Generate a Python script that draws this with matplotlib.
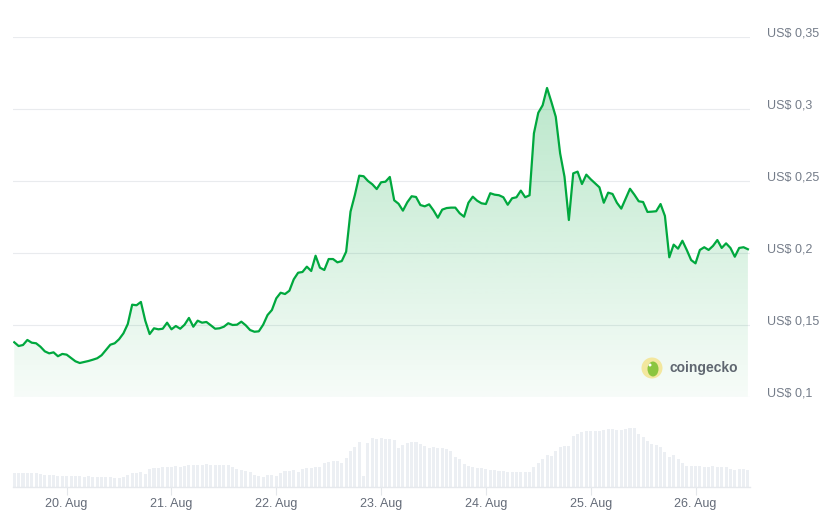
import numpy as np
import pandas as pd
import matplotlib
matplotlib.use("Agg")
import matplotlib.pyplot as plt
import matplotlib.dates as mdates
from matplotlib.colors import to_rgb
from matplotlib.patches import Ellipse

plt.rcParams['font.family'] = ['Liberation Sans', 'DejaVu Sans']

# ======== data (hourly, 19 Aug 12:00 -> 26 Aug 12:00) ========
times = pd.date_range('2024-08-19 12:00', periods=169, freq='h')

price = [
    0.1378, 0.1352, 0.1359, 0.1394, 0.1375, 0.1371, 0.1347, 0.1315, 0.1301, 0.1308,
    0.1281, 0.1297, 0.1292, 0.1269, 0.1246, 0.1234, 0.1241, 0.1248, 0.1257, 0.1267,
    0.1288, 0.1324, 0.1361, 0.1371, 0.1399, 0.1440, 0.1505, 0.1639, 0.1635, 0.1658,
    0.1528, 0.1435, 0.1475, 0.1468,
    0.1472, 0.1514, 0.1468, 0.1491, 0.1472, 0.1500, 0.1547, 0.1486, 0.1528, 0.1514,
    0.1519, 0.1496, 0.1472, 0.1475, 0.1486, 0.1510, 0.1498, 0.1500, 0.1521, 0.1496,
    0.1463, 0.1451, 0.1454, 0.1500, 0.1567, 0.1602, 0.1683, 0.1722, 0.1713, 0.1736,
    0.1815, 0.1861, 0.1866,
    0.1903, 0.1873, 0.1979, 0.1896, 0.1880, 0.1956, 0.1956, 0.1933, 0.1942, 0.2007,
    0.2285, 0.2401, 0.2535, 0.2531, 0.2498, 0.2475, 0.2442, 0.2489, 0.2493, 0.2526,
    0.2364, 0.2340, 0.2292, 0.2350, 0.2392, 0.2387, 0.2331, 0.2322, 0.2336, 0.2294,
    0.2243, 0.2299, 0.2310, 0.2313, 0.2313,
    0.2274, 0.2250, 0.2347, 0.2389, 0.2361, 0.2343, 0.2338, 0.2413, 0.2403, 0.2399,
    0.2385, 0.2333, 0.2378, 0.2385, 0.2431, 0.2385, 0.2399, 0.2829, 0.2972, 0.3024,
    0.3144, 0.3047, 0.2944, 0.2690, 0.2528, 0.2227, 0.2551, 0.2563, 0.2477, 0.2542,
    0.2510, 0.2482, 0.2454, 0.2347,
    0.2417, 0.2408, 0.2347, 0.2306, 0.2375, 0.2444, 0.2403, 0.2357, 0.2352, 0.2283,
    0.2285, 0.2288, 0.2338, 0.2255, 0.1968, 0.2056, 0.2028, 0.2083, 0.2019, 0.1949,
    0.1926, 0.2019, 0.2038, 0.2019, 0.2047, 0.2088, 0.2033, 0.2065, 0.2033, 0.1972,
    0.2033, 0.2038, 0.2024,
]

# volume, relative units (axis is unlabeled)
volume = [
    42, 42, 42, 42, 42, 42, 38, 35, 35, 35,
    32, 32, 32, 32, 32, 32, 30, 32, 30, 30,
    30, 30, 28, 26, 26, 28, 34, 42, 42, 44,
    38, 52, 55, 55, 59, 59, 59, 62, 60, 63,
    66, 66, 66, 66, 68, 66, 66, 66, 66, 66,
    58, 52, 51, 47, 43, 35, 32, 29, 35, 35,
    32, 40, 46, 47, 50, 45, 53, 56, 56, 58,
    59, 70, 74, 76, 77, 72, 85, 106, 118, 133,
    32, 130, 145, 142, 146, 143, 142, 140, 115, 125,
    132, 134, 134, 128, 122, 116, 118, 116, 116, 112,
    106, 88, 82, 68, 62, 58, 56, 56, 52, 50,
    50, 47, 47, 44, 44, 44, 44, 44, 44, 58,
    70, 82, 94, 92, 106, 120, 122, 122, 152, 158,
    164, 166, 166, 166, 168, 170, 172, 172, 170, 170,
    172, 176, 176, 158, 150, 138, 128, 126, 118, 104,
    88, 96, 82, 72, 62, 62, 62, 62, 60, 60,
    62, 60, 58, 58, 54, 50, 52, 52, 50,
]

y_ticks = [0.1, 0.15, 0.2, 0.25, 0.3, 0.35]
y_labels = ['US$ 0,1', 'US$ 0,15', 'US$ 0,2', 'US$ 0,25', 'US$ 0,3', 'US$ 0,35']

GREEN = '#00a83e'
W, H = 826, 514

fig = plt.figure(figsize=(W / 100, H / 100), dpi=100)
left, right = 13, 750
ax = fig.add_axes([left / W, 1 - 396.7 / H, (right - left) / W, 360 / H])
axv = fig.add_axes([left / W, 1 - 486.7 / H, (right - left) / W, 66.7 / H])

day0 = mdates.date2num(pd.Timestamp('2024-08-20'))
xlim = (day0 - 0.512, day0 + 6.52)

# ======== price panel ========
t = mdates.date2num(times)
ax.plot(t, price, color=GREEN, lw=1.6, zorder=3, solid_joinstyle='round')
poly = ax.fill_between(t, price, 0.1, color='none', lw=0)

grad = np.zeros((256, 1, 4))
grad[..., :3] = to_rgb(GREEN)
grad[:, 0, 3] = np.linspace(0.31, 0.035, 256)
im = ax.imshow(grad, extent=[xlim[0], xlim[1], 0.1, 0.35], aspect='auto',
               origin='upper', zorder=2)
im.set_clip_path(poly.get_paths()[0], transform=ax.transData)

ax.set_xlim(*xlim)
ax.set_ylim(0.1, 0.35)
ax.set_yticks(y_ticks)
ax.set_yticklabels([])
ax.set_xticks([])
ax.grid(axis='y', color='#e9ebee', lw=0.8)
ax.set_axisbelow(True)
ax.tick_params(length=0)
for s in ax.spines.values():
    s.set_visible(False)
for v, lab in zip(y_ticks, y_labels):
    ax.text(767 / W, v, lab, transform=ax.get_yaxis_transform().__class__(fig.transFigure, ax.transData),
            ha='left', va='baseline', fontsize=9, color='#747c89')

# ======== volume panel ========
axv.bar(t, volume, width=0.029, color='#eceff3', lw=0)
axv.set_xlim(*xlim)
axv.set_ylim(0, 200)
axv.set_yticks([])
for s in ['top', 'left', 'right']:
    axv.spines[s].set_visible(False)
axv.spines['bottom'].set_color('#e6e9ed')
axv.spines['bottom'].set_linewidth(1)
axv.xaxis.set_major_locator(mdates.DayLocator())
axv.xaxis.set_major_formatter(mdates.DateFormatter('%d. %b'))
axv.tick_params(axis='x', length=6, width=0.8, color='#e3e6ea', pad=2,
                labelsize=9, labelcolor='#646b78')

# ======== watermark ========
cx, cy = 652 / W, 1 - 368 / H
fig.add_artist(Ellipse((cx, cy), 21 / W, 21 / H, transform=fig.transFigure,
                       fc='#f3e79e', ec='none'))
fig.add_artist(Ellipse((cx + 1 / W, cy - 1 / H), 11 / W, 15 / H, transform=fig.transFigure,
                       fc='#8bc53f', ec='none'))
fig.add_artist(Ellipse((cx - 2 / W, cy + 3 / H), 3 / W, 3 / H, transform=fig.transFigure,
                       fc='white', ec='none'))
fig.text(669 / W, cy, 'coingecko', fontsize=10, fontweight='bold', color='#5f6670',
         ha='left', va='center')

fig.savefig('out.png', dpi=100)
